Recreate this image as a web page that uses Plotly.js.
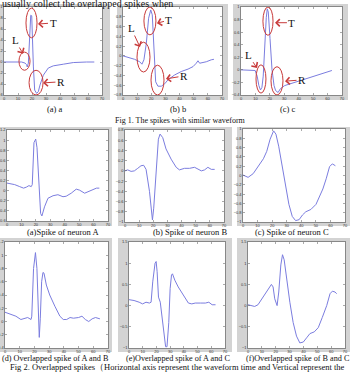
<!DOCTYPE html>
<html>
<head>
<meta charset="utf-8">
<script src="https://cdn.plot.ly/plotly-3.0.1.min.js"></script>
<style>
  html, body { margin: 0; padding: 0; background: #fff; }
  #chart { width: 353px; height: 375px; }
</style>
</head>
<body>
<div id="chart"></div>
<script>
// ---- Fig 1: spikes with similar waveform (time, amplitude) ----
const fig1aT = [0, 12.6, 15, 16.2, 16.6, 17.4, 19.1, 19.8, 21, 21.9, 23.3, 24.5, 25.7, 28.1, 31.6, 35.2, 42.4, 49.5, 59, 64.5];
const fig1aV = [0, 0, -0.02, -0.05, -0.09, -0.02, 0.85, 0.84, -0.09, -0.51, -0.57, -0.54, -0.42, -0.24, -0.11, -0.07, -0.04, -0.01, 0, 0];

const fig1bT = [0, 8.2, 11.8, 13.4, 14.8, 16.5, 18.1, 19.6, 20.7, 21.9, 23.1, 24.7, 27.1, 29.5, 31.8, 36.5, 41.2, 46, 49.5, 51.8, 53, 54.2, 56.6, 58.9, 62.4, 64.3];
const fig1bV = [0, -0.07, -0.12, -0.17, -0.08, 0.26, 0.77, 0.94, 0.84, 0.12, -0.53, -0.62, -0.62, -0.57, -0.49, -0.39, -0.32, -0.27, -0.22, -0.15, -0.1, -0.15, -0.14, -0.12, -0.08, -0.07];

const fig1cT = [0, 8.2, 9.8, 11.2, 12.4, 13.5, 14.5, 15.4, 16.3, 17.5, 18.2, 18.9, 20.1, 21.5, 22.9, 24, 25.7, 27.3, 30.3, 42, 53.7, 63];
const fig1cV = [0, 0, -0.01, -0.1, -0.25, -0.32, -0.28, -0.1, 0.34, 0.83, 0.97, 0.92, 0.5, 0, -0.25, -0.33, -0.36, -0.3, -0.25, -0.16, -0.08, -0.01];

// ---- Fig 2: single-neuron spikes ----
const spikeAT = [0, 5.3, 8.8, 11.5, 13.4, 15.2, 16.8, 17.5, 18.7, 19.9, 20.8, 22.2, 23.3, 24.2, 26, 28.4, 31.9, 35.3, 38.8, 41, 44.5, 48, 50.3, 53.8, 57.3, 62, 64];
const spikeAV = [0.15, 0.12, 0.08, 0.05, 0.07, 0.1, 0.08, 0.12, 0.95, 1.02, 0.85, -0.01, -0.45, -0.5, -0.32, -0.15, -0.1, -0.08, -0.12, -0.11, -0.05, 0.03, 0.01, -0.05, -0.01, 0.05, 0.05];

const spikeBT = [0, 1.9, 4.3, 6.6, 9, 11.3, 13.2, 14.9, 17.3, 18.4, 19.4, 20.3, 22, 23.6, 24.8, 26.7, 29, 32.6, 36.2, 38.5, 42.1, 45.6, 49.2, 51.5, 54, 56.3, 58.6, 61, 63.4];
const spikeBV = [0, 0.02, -0.01, 0, 0.05, 0.1, 0.11, 0.03, -0.4, -0.73, -0.96, -0.73, 0.07, 0.62, 0.72, 0.65, 0.43, 0.23, 0.07, 0.02, 0.05, 0.05, 0.07, 0.03, 0, 0.02, 0.07, 0.03, 0.03];

const spikeCT = [0, 3.5, 7, 10.5, 14, 16.3, 18.6, 21, 22.6, 24.5, 26.8, 29.1, 31.5, 33.8, 36.1, 38.5, 40.8, 43.1, 46.6, 50.1, 52.4, 54.8, 57.1, 59.4, 61.3, 63.4];
const spikeCV = [0.01, -0.04, 0.04, 0.19, 0.36, 0.52, 0.78, 0.96, 0.89, 0.63, 0.19, -0.25, -0.62, -0.88, -0.97, -0.95, -0.85, -0.78, -0.73, -0.62, -0.47, -0.29, -0.07, 0.19, 0.25, 0.21];

// ---- Fig 2: overlapped spikes ----
const overlapABT = [0, 3.9, 7.4, 10.8, 13.1, 15.4, 17.7, 18.2, 19.4, 20.7, 21.7, 22.6, 23.3, 24, 24.9, 25.8, 26.5, 28.1, 30.4, 33.9, 37.3, 39.6, 41.9, 44.2, 46.5, 50, 52.3, 54.6, 56.9, 59.2, 61.5, 64.5];
const overlapABV = [0.14, 0.11, 0.08, 0.03, 0.04, 0.06, 0.03, 0.08, 0.8, 1.04, 0.8, 0.2, -0.24, 0.05, 0.6, 0.74, 0.73, 0.55, 0.4, 0.23, 0.08, 0.03, 0.03, 0.06, 0.05, 0.06, 0.08, 0.03, 0, 0.04, 0.06, 0.04];

const overlapACT = [0, 3.7, 7.4, 9.9, 12.4, 14.9, 16.1, 17.3, 19, 19.8, 20.5, 21.5, 22.8, 24, 25.5, 26.7, 27.7, 29, 30, 31, 31.7, 33.4, 35.9, 39.6, 43.3, 45.8, 48.3, 52, 55.7, 58.2, 60.6, 63.1];
const overlapACV = [0.14, 0.12, 0.08, 0.04, 0.08, 0.06, 0.08, 0.56, 1.0, 1.04, 0.8, 0.2, 0.08, -0.24, -0.68, -0.97, -0.97, -0.4, 0.4, 0.72, 0.75, 0.6, 0.44, 0.24, 0.06, 0.04, 0.06, 0.06, 0.06, 0.08, 0.02, 0.02];

const overlapBCT = [0, 2.4, 4.8, 7.2, 10.9, 14.5, 16.9, 18.1, 19.3, 21, 22.2, 23.7, 24.9, 26.1, 27.8, 30.2, 32.6, 35, 37.4, 39.9, 42.3, 44.7, 47.8, 50.7, 53.6, 56.8, 59.2, 60.9, 62.8, 64];
const overlapBCV = [0.02, 0, -0.02, 0.02, 0.2, 0.4, 0.5, 0.44, 0.16, 0, 0.32, 0.96, 1.2, 1.08, 0.64, 0.08, -0.4, -0.72, -0.88, -0.86, -0.76, -0.66, -0.62, -0.52, -0.28, 0, 0.28, 0.34, 0.32, 0.28];

// ---- axis ranges and tick steps ----
const timeRange = [0, 70];
const timeStep = 10;
const ampRanges = [[-0.6, 1], [-0.8, 1], [-0.4, 1], [-0.6, 1.2], [-1, 0.8], [-1, 1], [-0.4, 1.2], [-1, 1.5], [-1, 1.5]];
const ampSteps = [0.2, 0.2, 0.2, 0.2, 0.2, 0.2, 0.2, 0.5, 0.5];

// ---- text ----
const headLine = 'usually collect the overlapped spikes when';
const subCaptions = ['(a) a', '(b) b', '(c) c',
  '(a)Spike of neuron A', '(b) Spike of neuron B', '(c) Spike of neuron C',
  '(d) Overlapped spike of A and B', '(e)Overlapped spike of A and C', '(f)Overlapped spike of B and C'];
const fig1Caption = 'Fig 1. The spikes with similar waveform';
const fig2Caption = 'Fig 2. Overlapped spikes\uFF08Horizontal axis represent the waveform time and Vertical represent the';

// ---- page geometry (pixels) ----
const W = 353, H = 375;
const px = p => p / W;
const py = p => 1 - p / H;

const series = [
  [fig1aT, fig1aV], [fig1bT, fig1bV], [fig1cT, fig1cV],
  [spikeAT, spikeAV], [spikeBT, spikeBV], [spikeCT, spikeCV],
  [overlapABT, overlapABV], [overlapACT, overlapACV], [overlapBCT, overlapBCV]
];
// [left, right, top, bottom] of each axes box and of its grey figure frame
const boxes = [
  [4, 102, 7, 95], [123, 222, 7, 95], [241, 342, 7, 95],
  [7, 108, 130, 221], [125, 224, 130, 222], [243, 345, 129, 222],
  [5, 108, 242, 348], [129, 225, 242, 348], [248, 345, 242, 348]
];
const frames = [
  [0, 110, 4, 100], [117, 228, 4, 100], [233, 348, 4, 100],
  [0, 112, 127, 226], [118, 232, 127, 226], [237, 350, 127, 226],
  [0, 112, 238, 352], [118, 232, 238, 352], [237, 350, 238, 352]
];
const captionPos = [[55, 109], [178, 109], [288, 109], [63, 232], [190, 232], [292, 232], [55, 358], [178, 358], [298, 358]];
const captionSize = [8.5, 8.5, 8.5, 8.5, 8.5, 8.5, 8.2, 8.2, 8.2];

const SERIF = '"Liberation Serif", "Times New Roman", serif';
const SANS = '"Liberation Sans", Arial, sans-serif';
const RED = '#c83a3a';
const WAVE = '#7b7ddf';
const AXIS = '#555';

const traces = [];
const shapes = [];
const annotations = [];
const layout = {
  width: W, height: H,
  margin: {l: 0, r: 0, t: 0, b: 0},
  paper_bgcolor: '#fff',
  plot_bgcolor: '#fff',
  showlegend: false,
  font: {family: SANS}
};

series.forEach(([t, v], i) => {
  const s = i === 0 ? '' : String(i + 1);
  const b = boxes[i], f = frames[i];
  traces.push({
    type: 'scatter', mode: 'lines', x: t, y: v,
    xaxis: 'x' + s, yaxis: 'y' + s,
    line: {color: WAVE, width: 1},
    hoverinfo: 'skip'
  });
  const common = {
    showline: true, mirror: 'ticks', linecolor: AXIS, linewidth: 0.6,
    ticks: 'inside', ticklen: 2, tickwidth: 0.5, tickcolor: AXIS,
    showgrid: false, zeroline: false, fixedrange: true,
    tickfont: {family: SANS, size: 4, color: '#333'}
  };
  layout['xaxis' + s] = Object.assign({}, common, {
    domain: [px(b[0]), px(b[1])], anchor: 'y' + s,
    range: timeRange, tick0: 0, dtick: timeStep
  });
  layout['yaxis' + s] = Object.assign({}, common, {
    domain: [py(b[3]), py(b[2])], anchor: 'x' + s,
    range: ampRanges[i], tick0: 0, dtick: ampSteps[i]
  });
  // grey figure window and white axes face
  shapes.push({type: 'rect', xref: 'paper', yref: 'paper', layer: 'below',
    x0: px(f[0]), x1: px(f[1]), y0: py(f[3]), y1: py(f[2]),
    fillcolor: '#d3d3d3', line: {width: 0}});
  shapes.push({type: 'rect', xref: 'paper', yref: 'paper', layer: 'below',
    x0: px(b[0]), x1: px(b[1]), y0: py(b[3]), y1: py(b[2]),
    fillcolor: '#ffffff', line: {width: 0}});
  annotations.push({xref: 'paper', yref: 'paper', x: px(captionPos[i][0]), y: py(captionPos[i][1]),
    xanchor: 'center', yanchor: 'middle', showarrow: false, text: subCaptions[i],
    font: {family: SERIF, size: captionSize[i], color: '#111'}});
});

// red rings around the L / T / R parts of the Fig 1 waveforms
function ring(n, x0, x1, y0, y1) {
  const s = n === 1 ? '' : String(n);
  shapes.push({type: 'circle', xref: 'x' + s, yref: 'y' + s, x0, x1, y0, y1,
    line: {color: RED, width: 1}, fillcolor: 'rgba(0,0,0,0)'});
}
function callout(n, label, head, tail) {
  const s = n === 1 ? '' : String(n);
  annotations.push({xref: 'x' + s, yref: 'y' + s, axref: 'x' + s, ayref: 'y' + s,
    x: head[0], y: head[1], ax: tail[0], ay: tail[1], text: label,
    showarrow: true, arrowhead: 4, arrowsize: 1.4, arrowwidth: 1, arrowcolor: RED,
    font: {family: SERIF, size: 11, color: '#111'}});
}
ring(1, 15.7, 23.6, 0.44, 0.98); ring(1, 10.7, 18.6, -0.15, 0.18); ring(1, 17.9, 27.9, -0.6, -0.15);
callout(1, 'T', [24.3, 0.69], [35, 0.71]);
callout(1, 'L', [13.6, 0.15], [7.9, 0.40]);
callout(1, 'R', [27.9, -0.38], [40.7, -0.36]);

ring(2, 14.8, 23.3, 0.43, 1.0); ring(2, 9.9, 19.1, -0.33, 0.28); ring(2, 19.8, 29, -0.8, -0.19);
callout(2, 'T', [24, 0.67], [32.5, 0.73]);
callout(2, 'L', [12, 0.18], [5.7, 0.57]);
callout(2, 'R', [30.4, -0.47], [43.1, -0.41]);

ring(3, 15.2, 22.2, 0.55, 1.0); ring(3, 10.4, 17.3, -0.37, 0.08); ring(3, 20.8, 29.1, -0.4, 0.05);
callout(3, 'T', [23.6, 0.75], [35.3, 0.75]);
callout(3, 'L', [11.1, 0.03], [4.9, 0.24]);
callout(3, 'R', [30.5, -0.18], [42.3, -0.16]);

// running text and figure captions
annotations.push({xref: 'paper', yref: 'paper', x: 0, y: py(3), xanchor: 'left', yanchor: 'middle',
  showarrow: false, text: headLine, font: {family: SERIF, size: 10, color: '#111'}});
annotations.push({xref: 'paper', yref: 'paper', x: px(181), y: py(120), xanchor: 'center', yanchor: 'middle',
  showarrow: false, text: fig1Caption, font: {family: SERIF, size: 8, color: '#111'}});
annotations.push({xref: 'paper', yref: 'paper', x: px(8), y: py(367), xanchor: 'left', yanchor: 'middle',
  showarrow: false, text: fig2Caption, font: {family: SERIF, size: 8.5, color: '#111'}});

layout.shapes = shapes;
layout.annotations = annotations;

Plotly.newPlot('chart', traces, layout, {staticPlot: true, displayModeBar: false});
</script>
</body>
</html>
